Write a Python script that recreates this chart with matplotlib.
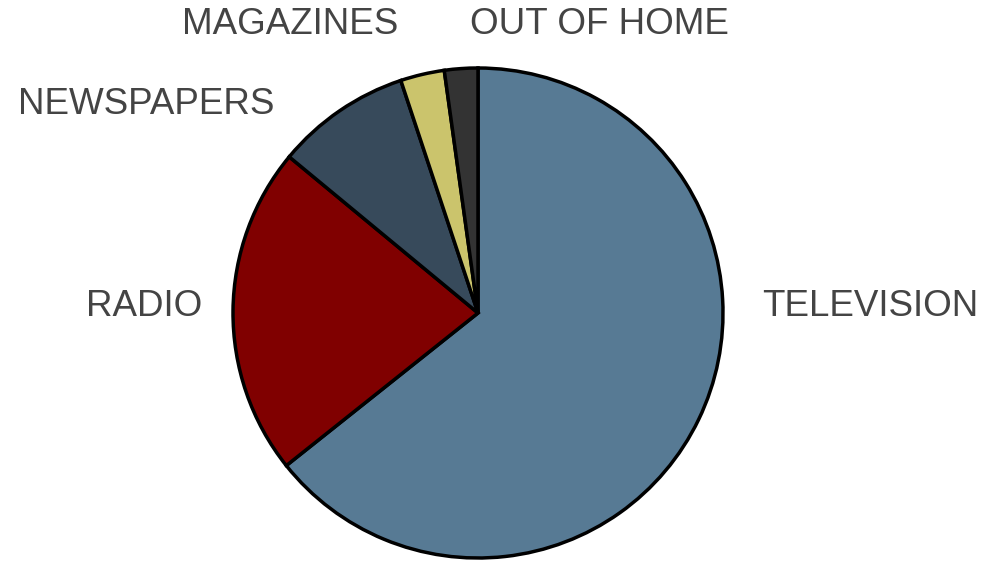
import matplotlib
matplotlib.use("Agg")
import matplotlib.pyplot as plt

# media share
categories = ["TELEVISION", "RADIO", "NEWSPAPERS", "MAGAZINES", "OUT OF HOME"]
shares = [64.3, 21.7, 8.9, 2.9, 2.2]
colors = ["#577a94", "#800000", "#374a5b", "#cbc46c", "#333333"]

W, H = 984, 562
fig = plt.figure(figsize=(W / 100, H / 100), dpi=100)
ax = fig.add_axes([0, 0, 1, 1])

# pie center / radius in pixel units (y measured from top)
cx, cy, r = 478, 313, 245
ax.pie(shares, colors=colors, startangle=90, counterclock=False,
       center=(cx, H - cy), radius=r,
       wedgeprops=dict(edgecolor="black", linewidth=2.5))

ax.set_xlim(0, W)
ax.set_ylim(0, H)
ax.set_aspect("equal")
ax.axis("off")

# label positions (pixel, from top), left-aligned
label_pos = {
    "TELEVISION": (762, 306),
    "RADIO": (86, 306),
    "NEWSPAPERS": (18, 105),
    "MAGAZINES": (182, 24),
    "OUT OF HOME": (470, 25),
}
for name in categories:
    x, y = label_pos[name]
    ax.text(x, H - y, name, ha="left", va="center", fontsize=26.5,
            family=["Liberation Sans", "DejaVu Sans"], color="#444444")

fig.savefig("out.png", dpi=100)
